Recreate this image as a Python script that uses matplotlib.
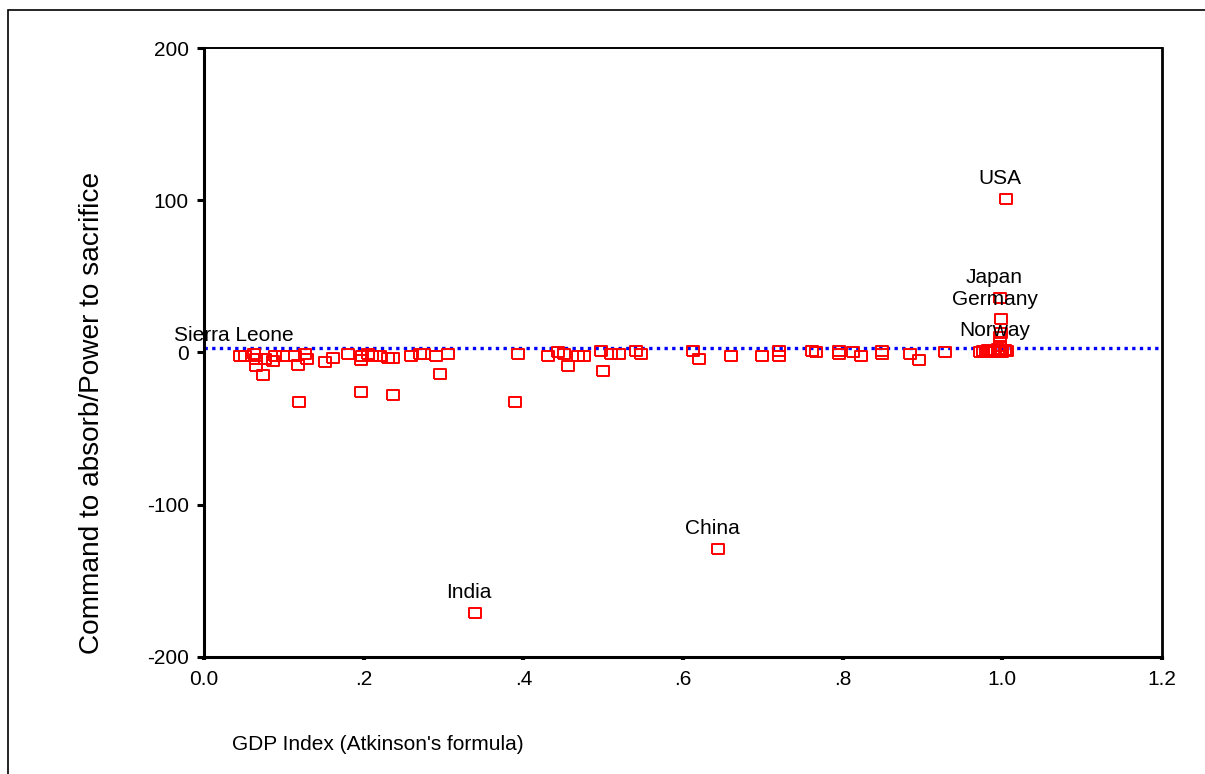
"""Scatter of command-to-absorb / power-to-sacrifice ratio against GDP index."""

import matplotlib.pyplot as plt
from matplotlib.patches import Rectangle

plt.rcParams["font.family"] = ["Liberation Sans", "DejaVu Sans"]

# GDP index (Atkinson's formula) and ratio for every country
gdp_index = [
    0.045, 0.051, 0.063, 0.065, 0.065, 0.074, 0.077, 0.087, 0.089, 0.099,
    0.114, 0.118, 0.119, 0.127, 0.129, 0.152, 0.161, 0.181, 0.198, 0.197,
    0.197, 0.205, 0.211, 0.221, 0.231, 0.237, 0.237, 0.259, 0.271, 0.275,
    0.290, 0.295, 0.306, 0.393, 0.389, 0.431, 0.444, 0.451, 0.456, 0.468,
    0.476, 0.497, 0.4995, 0.510, 0.520, 0.541, 0.547, 0.613, 0.620, 0.660,
    0.699, 0.720, 0.720, 0.761, 0.767, 0.795, 0.795, 0.813, 0.823, 0.849,
    0.849, 0.884, 0.896, 0.928, 0.972, 0.976, 0.979, 0.982, 0.985, 0.988,
    0.991, 0.994, 0.997, 1.000, 1.003, 1.006, 0.997, 0.997, 0.997, 0.998,
    0.998, 0.998, 0.997, 1.004, 0.644, 0.339,
]
command_ratio = [
    -2, -2, -0.7, -4, -8.6, -15, -4, -5.3, -2.6, -2.6,
    -2, -7.9, -32.3, -1.3, -4, -6, -3.3, -1.3, -2, -4.6,
    -25.7, -0.7, -2, -2, -3.3, -3.3, -27.7, -2, -1.3, -0.7,
    -2, -13.8, -0.7, -0.7, -32.3, -2, 0, -0.7, -8.6, -2.6,
    -2, 0.7, -11.9, -0.7, -0.7, 0.7, -0.7, 0.7, -4, -2,
    -2, -2, 0.7, 0.7, 0, -0.7, 1.3, 0, -2, -0.7,
    0.7, -0.7, -4.6, 0, 0.5, 1, 0.5, 1.5, 0.5, 1,
    0.5, 2, 1, 0.5, 1.5, 1, 4, 7, 10, 13,
    1.5, 22, 36, 101, -129, -171,
]

label_names = ["Sierra Leone", "Norway", "Germany", "Japan", "USA", "China", "India"]
label_x = [0.045, 0.998, 0.998, 0.997, 1.004, 0.644, 0.339]
label_y = [-2, 1.5, 22, 36, 101, -129, -171]

mean_ratio = 2.7

x_ticks = [0.0, 0.2, 0.4, 0.6, 0.8, 1.0, 1.2]
x_tick_labels = ["0.0", ".2", ".4", ".6", ".8", "1.0", "1.2"]
y_ticks = [-200, -100, 0, 100, 200]
y_tick_labels = ["-200", "-100", "0", "100", "200"]

fig = plt.figure(figsize=(12.05, 7.74), dpi=100)
ax = fig.add_axes([204 / 1205, 1 - 657 / 774, 958 / 1205, 609 / 774])

# outer frame
fig.patches.append(
    Rectangle((8 / 1205, -0.1), 1.2, 1.1 - 10 / 774, transform=fig.transFigure,
              fill=False, edgecolor="black", linewidth=1.2)
)

rect_marker = [(-1.35, -1), (1.35, -1), (1.35, 1), (-1.35, 1), (-1.35, -1)]
ax.plot(gdp_index, command_ratio, linestyle="none", marker=rect_marker,
        markersize=8.8, markerfacecolor="none", markeredgecolor="#ff0000",
        markeredgewidth=1.4, zorder=3)

ax.axhline(mean_ratio, color="#0000ff", linewidth=2.4,
           linestyle=(0, (1, 1.3)), zorder=2)

for name, lx, ly in zip(label_names, label_x, label_y):
    ax.annotate(name, (lx, ly), xytext=(-6, 20), textcoords="offset pixels",
                ha="center", va="center", fontsize=15)

ax.set_xlim(0, 1.2)
ax.set_ylim(-200, 200)
ax.set_xticks(x_ticks)
ax.set_xticklabels(x_tick_labels)
ax.set_yticks(y_ticks)
ax.set_yticklabels(y_tick_labels)
ax.tick_params(axis="y", direction="out", length=5, width=2.2, pad=6,
               labelsize=15)
ax.tick_params(axis="x", direction="out", length=2.5, width=3, pad=7,
               labelsize=15)

ax.spines["left"].set_linewidth(2.2)
ax.spines["bottom"].set_linewidth(2.2)
ax.spines["top"].set_linewidth(1.4)
ax.spines["right"].set_linewidth(2.0)

fig.text(232 / 1205, 1 - 745 / 774, "GDP Index (Atkinson's formula)",
         ha="left", va="center", fontsize=15)
fig.text(92 / 1205, 1 - 413 / 774, "Command to absorb/Power to sacrifice",
         rotation=90, ha="center", va="center", fontsize=20.2)

fig.savefig("out.png", dpi=100)
